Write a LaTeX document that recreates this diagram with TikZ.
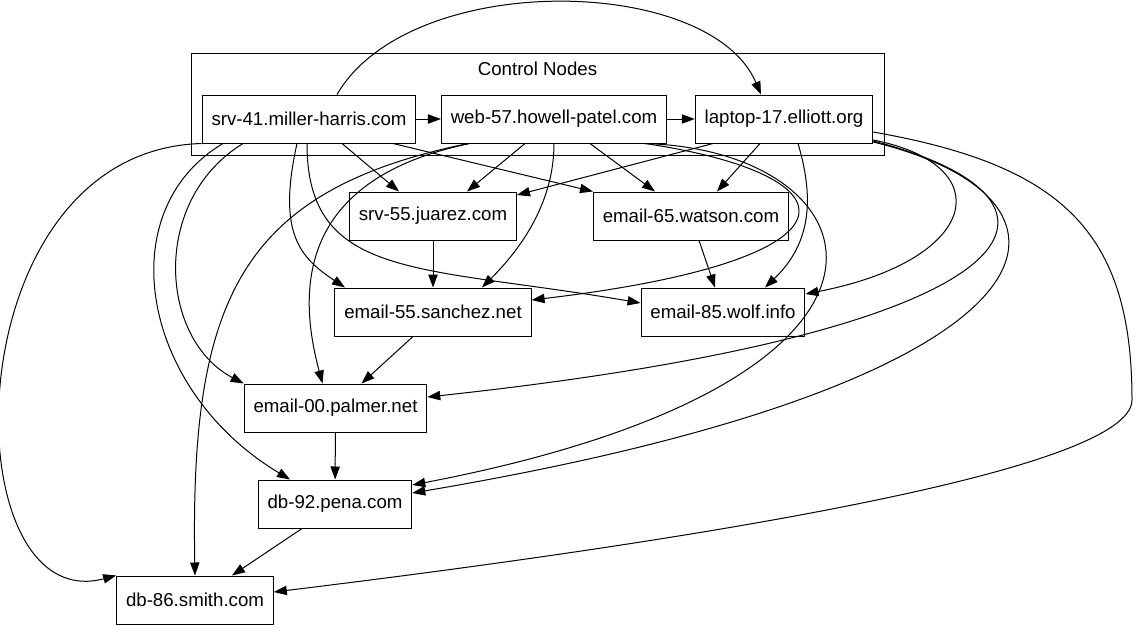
\documentclass[tikz,border=0pt]{standalone}
\usepackage{fontspec}
\setmainfont{Liberation Sans}
\usetikzlibrary{arrows.meta,calc}

\begin{document}
\begin{tikzpicture}[
    x=0.75pt, y=-0.75pt,
    every node/.style={font=\fontsize{14pt}{16pt}\selectfont},
    host/.style={
      draw, line width=0.75pt,
      inner xsep=7pt, inner ysep=0pt,
      minimum height=36pt,
    },
    cluster/.style={
      draw, line width=0.75pt, inner sep=0pt,
      minimum width=519.75pt, minimum height=76.5pt,
    },
    link/.style={-{Triangle[length=9.75pt,width=7pt]}, line width=0.75pt},
  ]
\useasboundingbox (0,0) rectangle (1136,629);
% --- row y-positions (px, downwards)
\def\rA{119}
\def\rB{216}
\def\rC{312}
\def\rD{408}
\def\rE{504}
\def\rF{600}

% Cluster — control nodes
\node[cluster] (ctrl) at (537.5,104) {};
\node (ctrllabel) at (537.5,69) {Control Nodes};

% Row 1 — inside the cluster
\node[host] (srv41)  at (309,\rA) {srv-41.miller-harris.com};
\node[host] (web57)  at (554,\rA) {web-57.howell-patel.com};
\node[host] (laptop) at (784,\rA) {laptop-17.elliott.org};

% Rows 2..6
\node[host] (srv55)   at (433,\rB)   {srv-55.juarez.com};
\node[host] (email65) at (691,\rB)   {email-65.watson.com};
\node[host] (email55) at (433,\rC)   {email-55.sanchez.net};
\node[host] (email85) at (723,\rC)   {email-85.wolf.info};
\node[host] (email00) at (335.5,\rD) {email-00.palmer.net};
\node[host] (db92)    at (335,\rE)   {db-92.pena.com};
\node[host] (db86)    at (195,\rF)   {db-86.smith.com};

% --- from srv-41
\draw[link] (srv41) -- (web57);
\draw[link] ($(srv41.north)+(28,0)$) .. controls +(73,-125) and +(-51,-120) .. ($(laptop.north)+(-23,0)$);
\draw[link] ($(srv41.south)+(33,0)$) -- ($(srv55.north)+(-34,0)$);
\draw[link] ($(srv41.south)+(84,0)$) -- (email65.north west);
\draw[link] ($(srv41.south)+(-12,0)$) .. controls +(-20,90) and +(-45,-30) .. ($(email55.north)+(-88,0)$);
\draw[link] ($(srv41.south)+(-2,0)$) .. controls +(0,137) and +(-221,-38) .. ($(email85.west)+(0,-9)$);
\draw[link] ($(srv41.south)+(-66,0)$) .. controls +(-93,57) and +(-84,-44) .. (email00.north west);
\draw[link] ($(srv41.south)+(-86,0)$) .. controls +(-113,67) and +(-150,-90) .. ($(db92.north)+(-45,0)$);
\draw[link] (srv41.south west) .. controls +(-252,7) and +(-166,44) .. (db86.north west);

% --- from web-57
\draw[link] (web57) -- (laptop);
\draw[link] ($(web57.south)+(-29,0)$) -- ($(srv55.north)+(34,0)$);
\draw[link] ($(web57.south)+(36,0)$) -- ($(email65.north)+(-36,0)$);
\draw[link] (web57.south) .. controls +(0,60) and +(38,-38) .. ($(email55.north)+(49,0)$);
\draw[link] ($(web57.south)+(91,0)$) .. controls +(215,32) and +(339,-40) .. ($(email55.east)+(0,-12)$);
\draw[link] ($(web57.south)+(-84,0)$) .. controls +(-180,37) and +(-22.5,-84) .. ($(email00.north)+(-13,0)$);
\draw[link] ($(web57.south)+(-86,0)$) .. controls +(-228,47) and +(-5,-276) .. (db86.north);
\draw[link] ($(web57.south)+(91,0)$) .. controls +(235,7) and +(548,-105) .. ($(db92.east)+(0,-19)$);

% --- from laptop-17
\draw[link] ($(laptop.south)+(-71,0)$) -- ($(srv55.east)+(0,-21)$);
\draw[link] ($(laptop.south)+(-24,0)$) -- ($(email65.north)+(26,0)$);
\draw[link] ($(laptop.south)+(14,0)$) .. controls +(17,57) and +(45,-43) .. ($(email85.north)+(42,0)$);
\draw[link] ($(laptop.east)+(0,21)$) .. controls +(127.5,25) and +(175,-34) .. ($(email85.east)+(0,-18)$);
\draw[link] ($(laptop.east)+(0,22)$) .. controls +(227.5,59) and +(623,-67) .. ($(email00.east)+(0,-11)$);
\draw[link] ($(laptop.east)+(0,23)$) .. controls +(237.5,58) and +(668,-113) .. ($(db92.east)+(0,-11)$);
\draw[link] ($(laptop.east)+(0,13)$) .. controls +(187,33) and (1132,230) .. (1132,400)
  .. controls (1132,470) and (700,540) .. ($(db86.east)+(0,-8)$);

% --- lower chain
\draw[link] (srv55) -- (email55);
\draw[link] ($(email65.south)+(8,0)$) -- ($(email85.north)+(-8,0)$);
\draw[link] ($(email55.south)+(-20,0)$) -- ($(email00.north)+(26,0)$);
\draw[link] (email00) -- (db92);
\draw[link] ($(db92.south)+(-33,0)$) -- ($(db86.north)+(37,0)$);
\end{tikzpicture}
\end{document}
